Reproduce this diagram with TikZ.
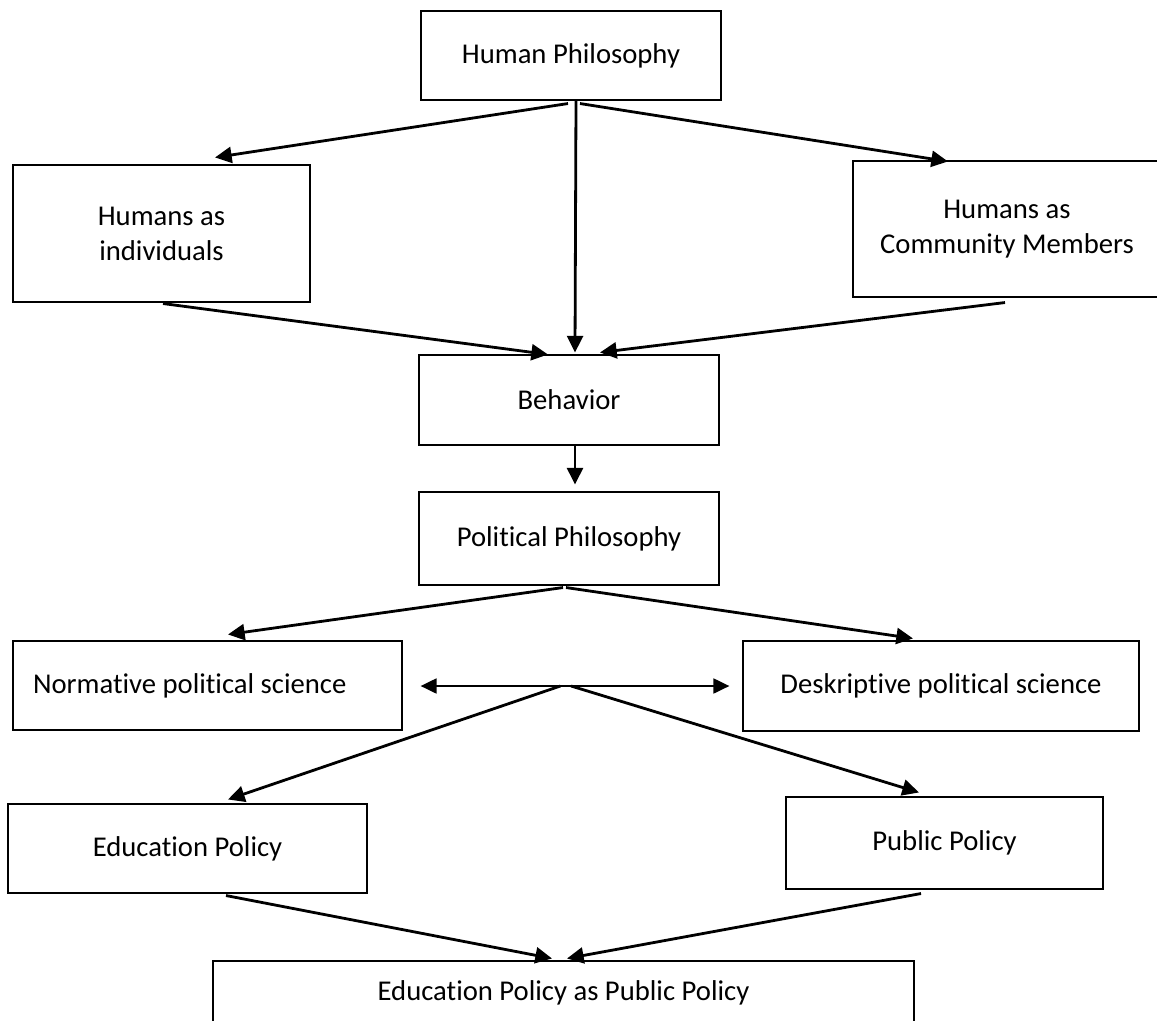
\documentclass[tikz,border=0pt]{standalone}
\usepackage{fontspec}
\setmainfont{Carlito}[Ligatures=NoCommon]
\usetikzlibrary{arrows.meta,calc}
\tikzset{
  box/.style={draw, line width=0.8pt, inner sep=0pt, align=center,
    font=\fontsize{21.5}{26.25}\selectfont},
  boxsize/.style 2 args={minimum width=#1, minimum height=#2},
  flowArrow/.style={-{Triangle[length=12.5pt,width=12pt]}, line width=2.1pt},
  bothArrow/.style={{Triangle[length=12pt,width=11pt]}-{Triangle[length=12pt,width=11pt]}, line width=2.1pt}
}

\begin{document}
\begin{tikzpicture}[x=0.75pt, y=-0.75pt]
  \useasboundingbox (0,0) rectangle (1157,1021);
  \clip (0,0) rectangle (1157,1021);
  % boxes
  \node[box, boxsize={225pt}{66.75pt}] (hp) at (571,55.5) {Human Philosophy};
  \node[box, boxsize={222.75pt}{102.75pt}] (ind) at (161.5,233.5) {Humans as\\individuals};
  \node[box, boxsize={231pt}{102pt}] (com) at (1007,229) {Humans as\\Community Members};
  \node[box, boxsize={225pt}{67.5pt}] (beh) at (569,400) {Behavior};
  \node[box, boxsize={225pt}{69.75pt}] (pol) at (569,538.5) {Political Philosophy};
  \node[box, align=flush left, text width=261.75pt, inner xsep=15pt, minimum height=66.75pt] (nor) at (207.5,685.5) {Normative political science};
  \node[box, boxsize={297pt}{67.5pt}] (des) at (941,686) {Deskriptive political science};
  \node[box, boxsize={269.25pt}{66.75pt}] (edu) at (187.5,848.5) {Education Policy};
  \node[box, boxsize={237.75pt}{69pt}] (pub) at (944.5,843) {Public Policy};
  \node[box, boxsize={525.75pt}{48pt}] (epp) at (563.5,993) {Education Policy as Public Policy};
  % human philosophy branches
  \draw[flowArrow] ([shift={(-3,3)}]hp.south) -- ([shift={(53.5,-7)}]ind.north);
  \draw[flowArrow] ([shift={(9,3)}]hp.south) -- ([shift={(-59,1)}]com.north);
  \draw[flowArrow] ([shift={(5,0)}]hp.south) -- ([shift={(6,-2)}]beh.north);
  \draw[flowArrow] ([shift={(1.5,1)}]ind.south) -- ([shift={(-21,0)}]beh.north);
  \draw[flowArrow] ([shift={(-2,5)}]com.south) -- ([shift={(31,-2)}]beh.north);
  \draw[flowArrow] ([shift={(6,0)}]beh.south) -- ([shift={(6,-7)}]pol.north);
  % political philosophy branches
  \draw[flowArrow] ([shift={(-6,2)}]pol.south) -- ([shift={(20.5,-6)}]nor.north);
  \draw[flowArrow] ([shift={(-3,2)}]pol.south) -- ([shift={(-28,-2)}]des.north);
  \draw[bothArrow] ([shift={(18,0.5)}]nor.east) -- ([shift={(-13,0)}]des.west);
  \coordinate (fork) at ($([shift={(18,0.5)}]nor.east)!0.47!([shift={(-13,0)}]des.west)$);
  \draw[flowArrow] ([xshift=-4pt]fork) -- ([shift={(40.5,-4)}]edu.north);
  \draw[flowArrow] ([xshift=4pt]fork) -- ([shift={(-25.5,-4)}]pub.north);
  \draw[flowArrow] ([shift={(38.5,2)}]edu.south) -- ([shift={(-11.5,-2)}]epp.north);
  \draw[flowArrow] ([shift={(-23.5,4)}]pub.south) -- ([shift={(3.5,-2)}]epp.north);
\end{tikzpicture}
\end{document}
